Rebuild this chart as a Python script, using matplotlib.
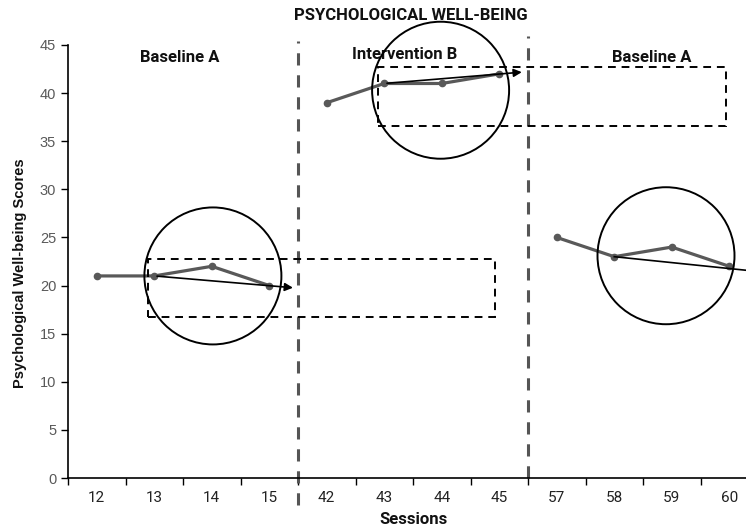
import matplotlib
matplotlib.use("Agg")
import matplotlib.pyplot as plt
from matplotlib.patches import Ellipse, Rectangle
from matplotlib.lines import Line2D
from matplotlib import font_manager
import numpy as np

# ---- data ----
sessions = ["12", "13", "14", "15", "42", "43", "44", "45", "57", "58", "59", "60"]
baseline1 = [21, 21, 22, 20]
intervention = [39, 41, 41, 42]
baseline2 = [25, 23, 24, 22]
phase_labels = ["Baseline A", "Intervention B", "Baseline A"]

names = {f.name for f in font_manager.fontManager.ttflist}
narrow = "Liberation Sans Narrow" if "Liberation Sans Narrow" in names else "Roboto"
arial = "Liberation Sans" if "Liberation Sans" in names else "DejaVu Sans"

W, H = 746, 528
fig = plt.figure(figsize=(W / 100, H / 100), dpi=100)
ax = fig.add_axes([68 / W, 1 - 478 / H, 690 / W, (478 - 45) / H])

x = np.arange(len(sessions))
line_col = "#595959"
kw = dict(color=line_col, lw=2.3, marker="o", ms=4.5, zorder=3)
ax.plot(x[0:4], baseline1, **kw)
ax.plot(x[4:8], intervention, **kw)
ax.plot(x[8:12], baseline2, **kw)

ax.set_xlim(-0.5, len(sessions) - 0.5)
ax.set_ylim(0, 45)
ax.set_yticks(range(0, 46, 5))
ax.set_xticks(x)
ax.set_xticklabels(sessions, family=narrow, fontsize=11)
ax.set_xticks(np.arange(-0.5, len(sessions), 1), minor=True)
ax.tick_params(axis="x", which="major", length=0, pad=9, colors="#222222")
ax.tick_params(axis="x", which="minor", length=5, width=1, color="black")
ax.tick_params(axis="y", length=5, width=1, labelsize=10.5, labelcolor="#595959")
for lab in ax.get_yticklabels():
    lab.set_family(arial)

for s in ["top", "right"]:
    ax.spines[s].set_visible(False)
for s in ["left", "bottom"]:
    ax.spines[s].set_linewidth(1.2)

# phase-change lines
for xv, ytop, ybot in [(3.5, 45.4, -2.8), (7.5, 45.9, 0)]:
    ax.add_line(Line2D([xv, xv], [ybot, ytop], color="#555555", lw=2.2,
                       dashes=(4, 3.2), clip_on=False, zorder=2))

# trend arrows
ax.annotate("", xy=(3.46, 19.75), xytext=(1, 21),
            arrowprops=dict(arrowstyle="-|>", color="black", lw=1.2, mutation_scale=12), zorder=4)
ax.annotate("", xy=(7.44, 42.2), xytext=(5, 41),
            arrowprops=dict(arrowstyle="-|>", color="black", lw=1.2, mutation_scale=12), zorder=4)
ax.plot([9, 11.6], [23, 21.4], color="black", lw=1.2, zorder=4, clip_on=False)

# circles (ellipses in data units that render round)
px_x = 57.5
px_y = (478 - 45) / 45
r = 68.5
for cx, cy in [(2.02, 21.0), (5.98, 40.3), (9.90, 23.1)]:
    ax.add_patch(Ellipse((cx, cy), 2 * r / px_x, 2 * r / px_y, fill=False,
                         ec="black", lw=1.4, clip_on=False, zorder=5))

# dashed boxes
for x0, x1, y0, y1 in [(0.887, 6.92, 16.74, 22.77), (4.89, 10.94, 36.6, 42.72)]:
    ax.add_patch(Rectangle((x0, y0), x1 - x0, y1 - y0, fill=False, ec="black",
                           lw=1.4, ls=(0, (4, 3)), clip_on=False, zorder=5))

# phase labels
for (px, py), t in zip([(1.44, 43.66), (5.36, 44.0), (9.65, 43.66)], phase_labels):
    ax.text(px, py, t, ha="center", va="center", fontsize=12, fontweight="bold",
            color="#111111", family=narrow)

fig.text(411 / W, 1 - 16 / H, "PSYCHOLOGICAL WELL-BEING", ha="center", va="center",
         fontsize=12, fontweight="bold", color="#111111", family=narrow)
fig.text(414 / W, 1 - 519 / H, "Sessions", ha="center", va="center",
         fontsize=12, fontweight="bold", color="#111111", family=narrow)
fig.text(20 / W, 1 - 273 / H, "Psychological Well-being Scores", ha="center", va="center",
         rotation=90, fontsize=10.5, fontweight="bold", color="#111111", family=arial)

fig.savefig("out.png", dpi=100)
